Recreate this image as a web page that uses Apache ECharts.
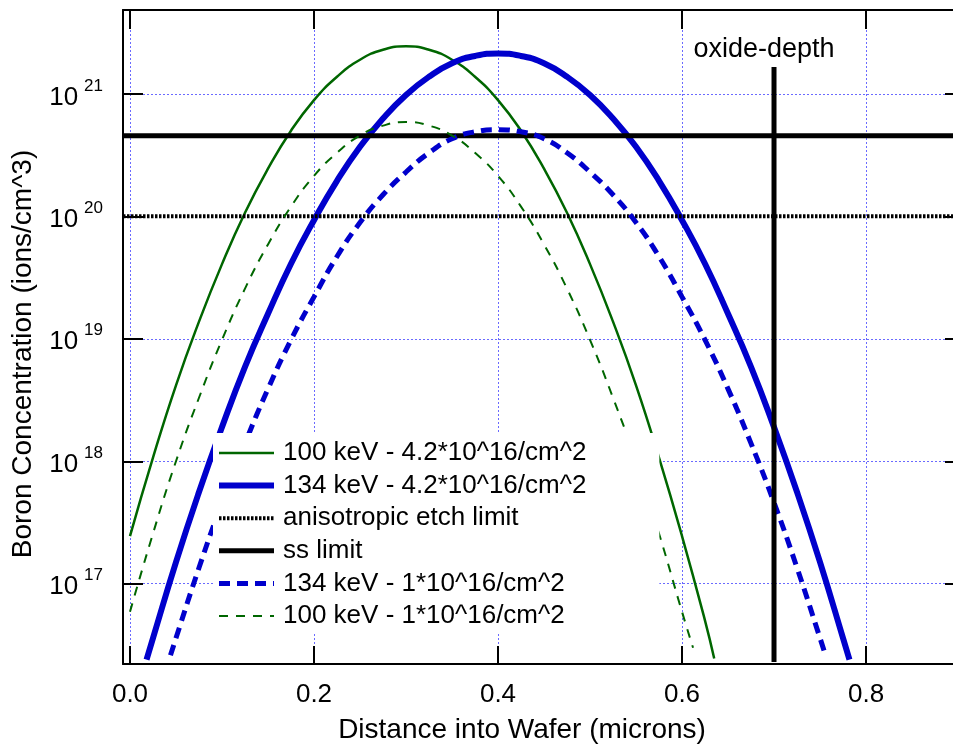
<!DOCTYPE html>
<html><head><meta charset="utf-8">
<script src="https://cdn.jsdelivr.net/npm/echarts@6/dist/echarts.min.js"></script>
<style>html,body{margin:0;padding:0;background:#fff;overflow:hidden;width:953px;height:749px}#c{width:964px;height:749px}</style>
</head><body><div id="c"></div>
<script>
// ---- data (depth in microns, concentration in ions/cm^3) ----
const depth100_42 = [0,0.025,0.05,0.075,0.1,0.125,0.15,0.175,0.2,0.225,0.25,0.275,0.3,0.325,0.35,0.375,0.4,0.425,0.45,0.475,0.5,0.525,0.55,0.575,0.6,0.625,0.635];
const conc100_42 = [2.45e17,1.07e18,4.17e18,1.38e19,4.07e19,1.07e20,2.45e20,5.0e20,8.9e20,1.38e21,1.9e21,2.29e21,2.45e21,2.29e21,1.9e21,1.38e21,8.9e20,5.0e20,2.45e20,1.07e20,4.07e19,1.38e19,4.17e18,1.07e18,2.45e17,5.0e16,2.45e16];

const depth100_1 = [0,0.025,0.05,0.075,0.1,0.125,0.15,0.175,0.2,0.225,0.25,0.275,0.3,0.325,0.35,0.375,0.4,0.425,0.45,0.475,0.5,0.525,0.55,0.575,0.6,0.612];
const conc100_1 = [5.9e16,2.57e17,1.0e18,3.3e18,9.8e18,2.57e19,5.9e19,1.2e20,2.14e20,3.3e20,4.57e20,5.5e20,5.9e20,5.5e20,4.57e20,3.3e20,2.14e20,1.2e20,5.9e19,2.57e19,9.8e18,3.3e18,1.0e18,2.57e17,5.9e16,3.0e16];

const depth134_42 = [0.018,0.025,0.05,0.075,0.1,0.125,0.15,0.175,0.2,0.225,0.25,0.275,0.3,0.325,0.35,0.375,0.4,0.425,0.45,0.475,0.5,0.525,0.55,0.575,0.6,0.625,0.65,0.675,0.7,0.725,0.75,0.775,0.782];
const conc134_42 = [2.4e16,3.6e16,1.5e17,5.6e17,1.9e18,5.9e18,1.6e19,4.1e19,9.3e19,1.95e20,3.7e20,6.3e20,9.8e20,1.38e21,1.78e21,2.04e21,2.14e21,2.04e21,1.78e21,1.38e21,9.8e20,6.3e20,3.7e20,1.95e20,9.3e19,4.1e19,1.6e19,5.9e18,1.9e18,5.6e17,1.5e17,3.6e16,2.4e16];

const depth134_1 = [0.044,0.05,0.075,0.1,0.125,0.15,0.175,0.2,0.225,0.25,0.275,0.3,0.325,0.35,0.375,0.4,0.425,0.45,0.475,0.5,0.525,0.55,0.575,0.6,0.625,0.65,0.675,0.7,0.725,0.75,0.755];
const conc134_1 = [2.6e16,3.6e16,1.35e17,4.6e17,1.4e18,3.9e18,9.8e18,2.2e19,4.7e19,8.9e19,1.5e20,2.3e20,3.3e20,4.3e20,4.9e20,5.1e20,4.9e20,4.3e20,3.3e20,2.3e20,1.5e20,8.9e19,4.7e19,2.2e19,9.8e18,3.9e18,1.4e18,4.6e17,1.35e17,3.6e16,2.75e16];

const etchLimit = 1e20;
const ssLimit = 4.56e20;
const oxideDepth = 0.7;
const oxideSpan = [2.3e16, 1.66e21];

const xTicks = [0, 0.2, 0.4, 0.6, 0.8];
const yTicks = [1e17, 1e18, 1e19, 1e20, 1e21];

const seriesNames = [
  '100 keV - 4.2*10^16/cm^2',
  '134 keV - 4.2*10^16/cm^2',
  'anisotropic etch limit',
  'ss limit',
  '134 keV - 1*10^16/cm^2',
  '100 keV - 1*10^16/cm^2'
];

// ---- chart ----
const X_MIN = -0.0076, X_MAX = 0.9065;
const Y_MIN = 2.21e16, Y_MAX = 4.84e21;
const FONT = '"Liberation Sans", Arial, Helvetica, sans-serif';
const GREEN = '#006600', BLUE = '#0000cc';
const pairs = (xs, ys) => xs.map((x, i) => [x, ys[i]]);

const styles = [
  { color: GREEN, width: 2.5, type: 'solid' },
  { color: BLUE, width: 6, type: 'solid' },
  { color: '#000', width: 4, type: [2.5, 1.5] },
  { color: '#000', width: 5, type: 'solid' },
  { color: BLUE, width: 5, type: [11, 7] },
  { color: GREEN, width: 2, type: [9, 8] }
];

const gridLine = { show: true, lineStyle: { color: '#6a6aff', width: 1, type: [2, 2] } };

const chart = echarts.init(document.getElementById('c'));
chart.setOption({
  animation: false,
  backgroundColor: '#fff',
  grid: { left: 123, top: 10, right: 0, bottom: 81, containLabel: false },
  xAxis: [{
    type: 'value', position: 'bottom', min: X_MIN, max: X_MAX,
    name: 'Distance into Wafer (microns)', nameLocation: 'middle', nameGap: 52,
    nameTextStyle: { fontFamily: FONT, fontSize: 28, color: '#000', padding: [0, 43, 0, 0] },
    axisLine: { show: true, onZero: false, lineStyle: { color: '#000', width: 2 } },
    axisTick: { show: true, inside: true, length: 18, customValues: xTicks, lineStyle: { color: '#000', width: 2 } },
    axisLabel: { show: true, customValues: xTicks, margin: 18, fontFamily: FONT, fontSize: 26, color: '#000', formatter: v => v.toFixed(1) },
    splitLine: gridLine
  }, {
    type: 'value', position: 'top', min: X_MIN, max: X_MAX,
    axisLine: { show: true, onZero: false, lineStyle: { color: '#000', width: 2 } },
    axisTick: { show: true, inside: true, length: 19, customValues: xTicks, lineStyle: { color: '#000', width: 2 } },
    axisLabel: { show: false },
    splitLine: { show: false }
  }],
  yAxis: [{
    type: 'log', logBase: 10, position: 'left', min: Y_MIN, max: Y_MAX,
    name: 'Boron Concentration (ions/cm^3)', nameLocation: 'middle', nameGap: 86, nameRotate: 90,
    nameTextStyle: { fontFamily: FONT, fontSize: 28, color: '#000', padding: [0, 34, 0, 0] },
    axisLine: { show: true, onZero: false, lineStyle: { color: '#000', width: 2 } },
    axisTick: { show: true, inside: true, length: 20, customValues: yTicks, lineStyle: { color: '#000', width: 2 } },
    axisLabel: {
      show: true, customValues: yTicks, margin: 20,
      formatter: v => '{a|10}{b|' + Math.round(Math.log10(v)) + '}',
      rich: {
        a: { fontFamily: FONT, fontSize: 26, color: '#000', verticalAlign: 'bottom', padding: [0, 0, 0, 0] },
        b: { fontFamily: FONT, fontSize: 17, color: '#000', padding: [0, 0, 16, 6], verticalAlign: 'bottom' }
      }
    },
    splitLine: gridLine
  }, {
    type: 'log', logBase: 10, position: 'right', min: Y_MIN, max: Y_MAX,
    axisLine: { show: true, onZero: false, lineStyle: { color: '#000', width: 2 } },
    axisTick: { show: true, inside: true, length: 19, customValues: yTicks, lineStyle: { color: '#000', width: 2 } },
    axisLabel: { show: false },
    splitLine: { show: false }
  }],
  legend: {
    orient: 'vertical', left: 213, top: 433, selectedMode: false,
    data: seriesNames.map((n, i) => ({ name: n, lineStyle: { width: styles[i].width, type: styles[i].type, color: styles[i].color }, itemStyle: { opacity: 0 } })),
    backgroundColor: '#fff', padding: [7, 73, 4, 3],
    itemWidth: 55, itemHeight: 14, itemGap: 6.6,
    itemStyle: { opacity: 0 },
    textStyle: { fontFamily: FONT, fontSize: 26, color: '#000', lineHeight: 26, padding: [0, 0, 0, 4] }
  },
  series: [
    { name: seriesNames[0], type: 'line', smooth: true, symbol: 'none', data: pairs(depth100_42, conc100_42),
      lineStyle: styles[0], itemStyle: { color: GREEN } },
    { name: seriesNames[1], type: 'line', smooth: true, symbol: 'none', data: pairs(depth134_42, conc134_42),
      lineStyle: styles[1], itemStyle: { color: BLUE } },
    { name: seriesNames[2], type: 'line', symbol: 'none', data: [[X_MIN, etchLimit], [X_MAX, etchLimit]],
      lineStyle: styles[2], itemStyle: { color: '#000' } },
    { name: seriesNames[3], type: 'line', symbol: 'none', data: [[X_MIN, ssLimit], [X_MAX, ssLimit]],
      lineStyle: styles[3], itemStyle: { color: '#000' } },
    { name: seriesNames[4], type: 'line', smooth: true, symbol: 'none', data: pairs(depth134_1, conc134_1),
      lineStyle: styles[4], itemStyle: { color: BLUE } },
    { name: seriesNames[5], type: 'line', smooth: true, symbol: 'none', data: pairs(depth100_1, conc100_1),
      lineStyle: styles[5], itemStyle: { color: GREEN } },
    { name: 'oxide-depth', type: 'line', symbol: 'none',
      data: [[oxideDepth, oxideSpan[0]], [oxideDepth, oxideSpan[1]]],
      endLabel: { show: true, formatter: 'oxide-depth', distance: 0, align: 'center', verticalAlign: 'bottom', offset: [-10, -4],
        fontFamily: FONT, fontSize: 27, color: '#000' },
      lineStyle: { color: '#000', width: 5 }, itemStyle: { color: '#000' } }
  ]
});
</script></body></html>
